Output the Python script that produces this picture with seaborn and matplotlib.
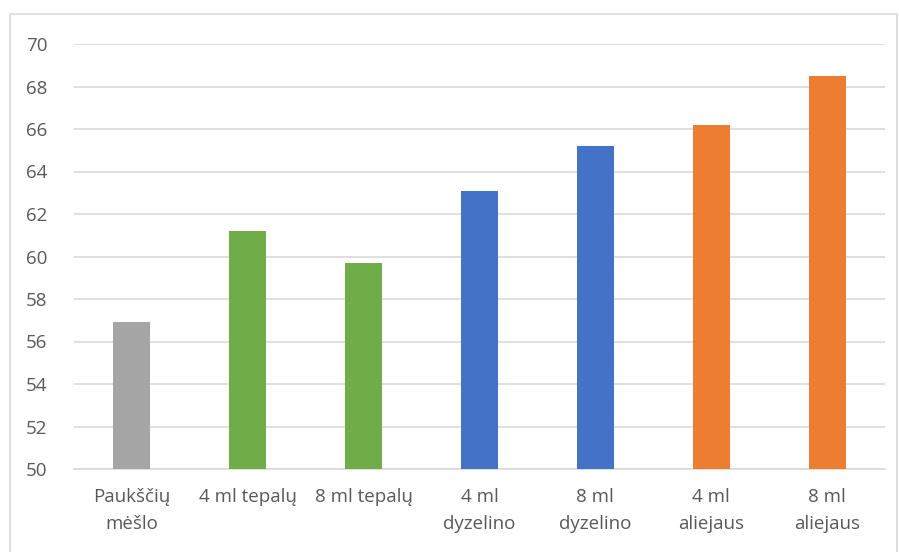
import matplotlib
matplotlib.use("Agg")
import matplotlib.pyplot as plt
import seaborn as sns
import pandas as pd
from matplotlib.patches import Rectangle

categories = ["Paukščių\nmėšlo", "4 ml tepalų", "8 ml tepalų", "4 ml\ndyzelino",
              "8 ml\ndyzelino", "4 ml\naliejaus", "8 ml\naliejaus"]
values = [56.9, 61.2, 59.7, 63.1, 65.2, 66.2, 68.5]
colors = ["#A5A5A5", "#70AD47", "#70AD47", "#4472C4", "#4472C4", "#ED7D31", "#ED7D31"]
yticks = [50, 52, 54, 56, 58, 60, 62, 64, 66, 68, 70]

sns.set_theme(style="white")
plt.rcParams['font.family'] = ['Open Sans', 'DejaVu Sans']

W, H = 899, 552
fig = plt.figure(figsize=(W / 100, H / 100), dpi=100)
ax = fig.add_axes([74 / W, 83 / H, (885 - 74) / W, (469 - 44) / H])

df = pd.DataFrame({"cat": categories, "val": values})
sns.barplot(data=df, x="cat", y="val", hue="cat", palette=colors, legend=False,
            width=0.32, ax=ax, saturation=1, zorder=3, linewidth=0)

ax.set_ylim(50, 70)
ax.set_yticks(yticks)
ax.set_xlim(-0.5, len(categories) - 0.5)
ax.grid(axis="y", color="#D9D9D9", linewidth=1.2, zorder=0)
ax.set_axisbelow(True)
for s in ["top", "right", "left"]:
    ax.spines[s].set_visible(False)
ax.spines["bottom"].set_color("#D9D9D9")
ax.spines["bottom"].set_linewidth(1.2)
ax.set_xlabel("")
ax.set_ylabel("")
ax.tick_params(axis="both", length=0, labelsize=13.5, labelcolor="#595959")
ax.tick_params(axis="y", pad=19)
ax.tick_params(axis="x", pad=14)
for lbl in ax.get_xticklabels():
    lbl.set_linespacing(1.6)

border = Rectangle((10 / W, -0.1), (897 - 10) / W, 1 - 14 / H + 0.1,
                   transform=fig.transFigure, fill=False, edgecolor="#D9D9D9",
                   linewidth=1.2, clip_on=False)
fig.patches.append(border)

fig.savefig("out.png", dpi=100, facecolor="white")
